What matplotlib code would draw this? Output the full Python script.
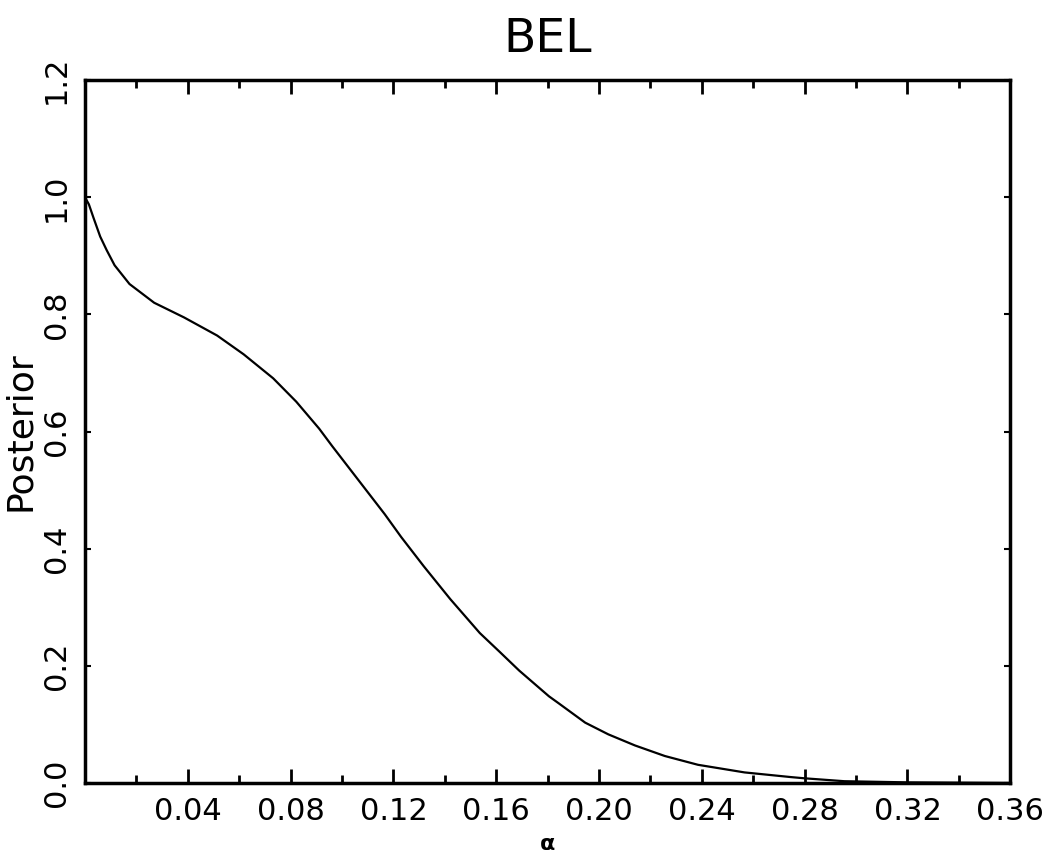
import matplotlib
matplotlib.use('Agg')
import matplotlib.pyplot as plt
from matplotlib.ticker import FixedLocator

# curve
alpha = [0.0, 0.0015, 0.0033, 0.0059, 0.0084, 0.0115, 0.0173, 0.0269, 0.0385,
         0.0514, 0.0617, 0.0732, 0.0822, 0.0911, 0.0962, 0.1064, 0.1166, 0.1230,
         0.1318, 0.1421, 0.1536, 0.1613, 0.1689, 0.1805, 0.1843, 0.1946, 0.2036,
         0.2140, 0.2256, 0.2385, 0.2566, 0.2747, 0.2798, 0.2954, 0.32, 0.34, 0.36]
posterior = [1.0, 0.988, 0.965, 0.933, 0.910, 0.884, 0.852, 0.820, 0.795,
             0.764, 0.732, 0.691, 0.651, 0.605, 0.575, 0.517, 0.459, 0.420,
             0.370, 0.314, 0.256, 0.224, 0.192, 0.148, 0.136, 0.103, 0.083,
             0.064, 0.046, 0.031, 0.018, 0.010, 0.008, 0.003, 0.001, 0.0005, 0.0]

x_major = [0.04, 0.08, 0.12, 0.16, 0.20, 0.24, 0.28, 0.32, 0.36]
x_minor = [0.02, 0.06, 0.10, 0.14, 0.18, 0.22, 0.26, 0.30, 0.34]
y_ticks = [0.0, 0.2, 0.4, 0.6, 0.8, 1.0, 1.2]

fig = plt.figure(figsize=(10.55, 8.57), dpi=100)
ax = fig.add_axes([0.0806, 0.0864, 0.877, 0.820])

ax.plot(alpha, posterior, color='black', linewidth=1.6, solid_joinstyle='round')

ax.set_xlim(0, 0.36)
ax.set_ylim(0, 1.2)

ax.xaxis.set_major_locator(FixedLocator(x_major))
ax.xaxis.set_minor_locator(FixedLocator(x_minor))
ax.set_xticklabels(['%.2f' % v for v in x_major])
ax.yaxis.set_major_locator(FixedLocator(y_ticks))
ax.set_yticklabels(['%.1f' % v for v in y_ticks], rotation=90, va='center')

ax.tick_params(axis='x', which='major', direction='in', length=10, width=2,
               top=True, labelsize=22, pad=10)
ax.tick_params(axis='x', which='minor', direction='in', length=6, width=2,
               top=True)
ax.tick_params(axis='y', which='major', direction='in', length=4, width=1.5,
               right=True, labelsize=22, pad=10)

for s in ax.spines.values():
    s.set_linewidth(2.5)

ax.set_title('BEL', fontsize=34, pad=20)
ax.set_ylabel('Posterior', fontsize=26, labelpad=4)
ax.set_xlabel('α', fontsize=16, fontweight='bold', labelpad=6)

fig.savefig('out.png', dpi=100)
